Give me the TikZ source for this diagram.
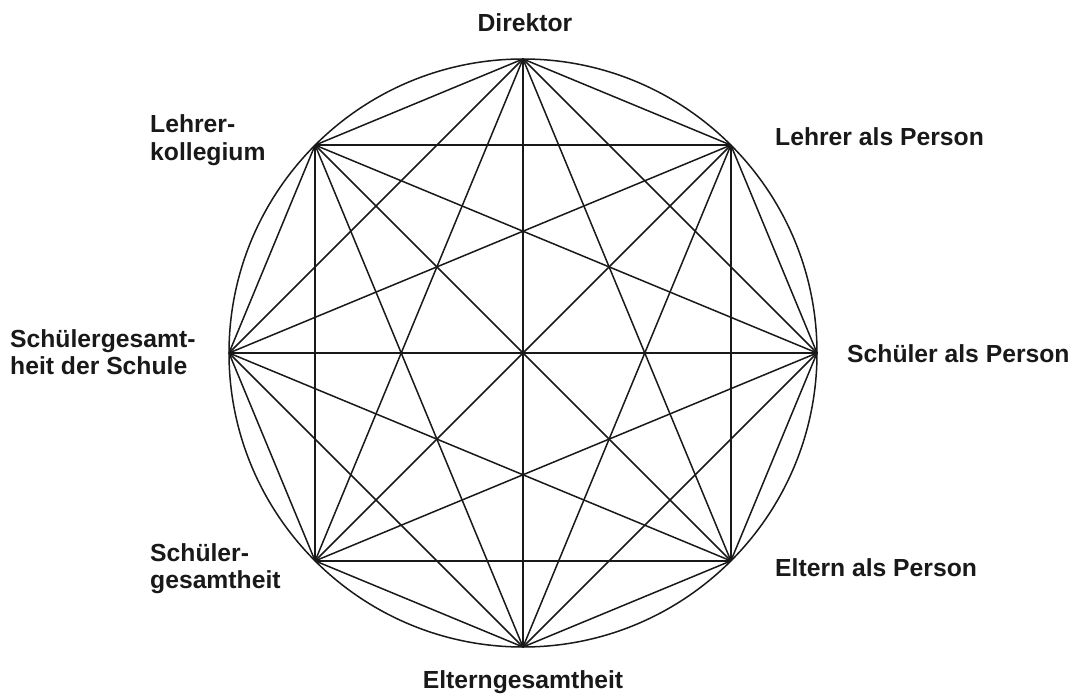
\documentclass[tikz,border=0pt]{standalone}
\usepackage{fontspec}
\setmainfont{Liberation Sans}
\usetikzlibrary{calc}
\begin{document}
\begin{tikzpicture}[x=1pt,y=-1pt,
  lbl/.style={font=\fontsize{24.7}{27.5}\selectfont\bfseries, text=black!90, inner sep=0pt, align=left},
  edge/.style={line width=1.5pt, draw=black!90}]
\useasboundingbox (0,0) rectangle (1077,695);
\coordinate (c) at (523,353);
\draw[edge] (c) circle (294);
\foreach \i/\ang in {0/90,1/45,2/0,3/-45,4/-90,5/-135,6/180,7/135}{
  \coordinate (p\i) at ($(c)+({294*cos(\ang)},{-294*sin(\ang)})$);
}
\foreach \i in {0,...,6}{
  \pgfmathtruncatemacro{\s}{\i+1}
  \foreach \j in {\s,...,7}{
    \draw[edge] (p\i) -- (p\j);
  }
}
\node[lbl, anchor=base] (dir) at (525,32) {Direktor};
\node[lbl, anchor=base west] (lap) at (775,146) {Lehrer als Person};
\node[lbl, anchor=base west] (sap) at (847,362) {Schüler als Person};
\node[lbl, anchor=base west] (eap) at (775,576) {Eltern als Person};
\node[lbl, anchor=base] (eg) at (523,688) {Elterngesamtheit};
\node[lbl, anchor=base west] (lk) at (150,160.5) {Lehrer-\\kollegium};
\node[lbl, anchor=base west] (sgs) at (10,374.5) {Schülergesamt-\\heit der Schule};
\node[lbl, anchor=base west] (sg) at (150,588.5) {Schüler-\\gesamtheit};
\end{tikzpicture}
\end{document}
